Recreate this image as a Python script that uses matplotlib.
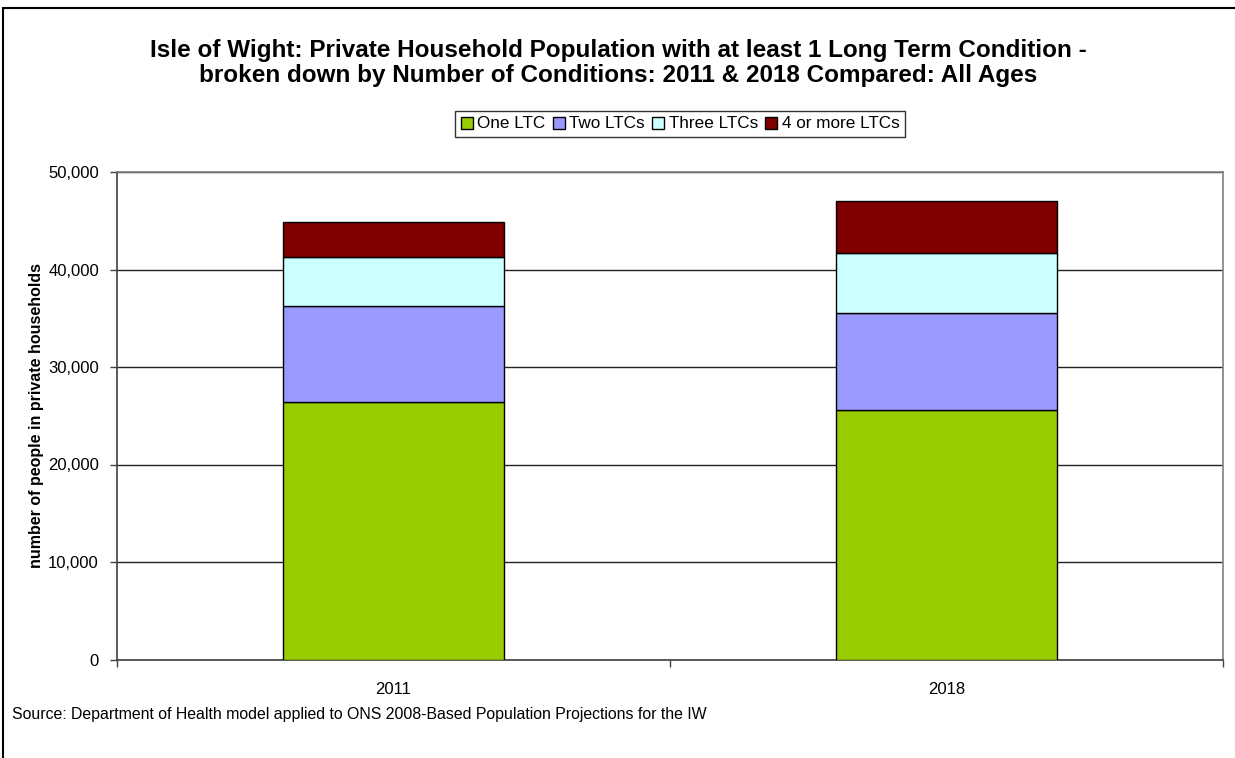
import matplotlib
matplotlib.use("Agg")
import matplotlib.pyplot as plt
from matplotlib.patches import Rectangle
from matplotlib.ticker import FuncFormatter, MultipleLocator

plt.rcParams['font.family'] = ['Liberation Sans', 'DejaVu Sans']

# Data
years = ["2011", "2018"]
series_names = ["One LTC", "Two LTCs", "Three LTCs", "4 or more LTCs"]
one_ltc = [26380, 25630]
two_ltcs = [9850, 9950]
three_ltcs = [5060, 6120]
four_plus_ltcs = [3590, 5310]
colors = ["#99CC00", "#9999FF", "#CCFFFF", "#800000"]

W, H = 1235, 758
fig = plt.figure(figsize=(W / 100, H / 100), dpi=100)

# Outer chart frame
fig.patches.append(Rectangle((3 / W, -0.1), 1.2, 1 - 8 / H + 0.1,
                             transform=fig.transFigure, fill=False,
                             edgecolor="black", linewidth=1.5, zorder=0))

left, right, top, bottom = 117 / W, 1223 / W, 172 / H, 659.5 / H
ax = fig.add_axes([left, 1 - bottom, right - left, bottom - top])

x = range(len(years))
base = [0, 0]
for vals, name, c in zip([one_ltc, two_ltcs, three_ltcs, four_plus_ltcs],
                         series_names, colors):
    ax.bar(x, vals, width=0.4, bottom=base, color=c, edgecolor="black",
           linewidth=1, label=name, zorder=3)
    base = [b + v for b, v in zip(base, vals)]

ax.set_xlim(-0.5, 1.5)
ax.set_ylim(0, 50000)
ax.yaxis.set_major_locator(MultipleLocator(10000))
ax.yaxis.set_major_formatter(FuncFormatter(lambda v, p: f"{int(v):,}"))
ax.grid(axis="y", color="#222222", linewidth=1, zorder=1)

ax.set_xticks([0, 1])
ax.set_xticklabels(years, fontsize=12)
ax.set_xticks([-0.5, 0.5, 1.5], minor=True)
ax.tick_params(axis="x", which="major", length=0, pad=16)
ax.tick_params(axis="x", which="minor", length=5, width=1, color="#404040")
ax.tick_params(axis="y", length=5, width=1, color="#404040", labelsize=12, pad=8)

for s in ["left", "bottom"]:
    ax.spines[s].set_color("#404040")
    ax.spines[s].set_linewidth(1.2)
for s in ["right", "top"]:
    ax.spines[s].set_color("#808080")
    ax.spines[s].set_linewidth(1.2)

ax.set_ylabel("number of people in private households", fontsize=11.5,
              fontweight="bold", labelpad=3)

fig.text(618 / W, 1 - 63 / H,
         "Isle of Wight: Private Household Population with at least 1 Long Term Condition -\n"
         "broken down by Number of Conditions: 2011 & 2018 Compared: All Ages",
         ha="center", va="center", fontsize=17.5, fontweight="bold",
         linespacing=1.1)

leg = fig.legend(loc="center", bbox_to_anchor=(680 / W, 1 - 124 / H),
                 ncol=4, fontsize=12.3, frameon=True, fancybox=False,
                 edgecolor="black", handlelength=0.7, handleheight=0.7,
                 handletextpad=0.25, columnspacing=0.45, borderpad=0.3,
                 borderaxespad=0)
leg.get_frame().set_linewidth(1)

fig.text(12 / W, 1 - 714 / H,
         "Source: Department of Health model applied to ONS 2008-Based Population Projections for the IW",
         ha="left", va="center", fontsize=11.4)

fig.savefig("out.png", dpi=100)
